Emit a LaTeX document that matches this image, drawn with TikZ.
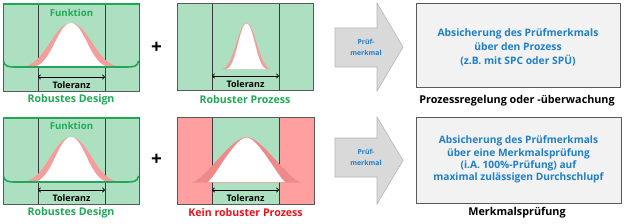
\documentclass[tikz,border=0pt]{standalone}
\usepackage{fontspec}
\setmainfont{Open Sans}
\usetikzlibrary{arrows.meta}
\definecolor{gfill}{HTML}{ADE0C1}
\definecolor{gline}{HTML}{22A65A}
\definecolor{gtext}{HTML}{1FAA55}
\definecolor{pband}{HTML}{F59C9C}
\definecolor{pbandd}{HTML}{F08A8A}
\definecolor{rfill}{HTML}{FF9F9F}
\definecolor{rtext}{HTML}{E8141C}
\definecolor{btext}{HTML}{1F7FC8}
\definecolor{afill}{HTML}{D9D9D9}
\definecolor{aline}{HTML}{B5B5B5}
\definecolor{bfill}{HTML}{F2F2F2}
\definecolor{bline}{HTML}{595959}
\definecolor{dline}{HTML}{3A3A3A}
\tikzset{
  panel/.style={draw=bline, line width=0.6pt},
  divline/.style={draw=dline, line width=0.7pt},
  funcline/.style={draw=gline, line width=2.4pt},
  bowlline/.style={draw=gline, line width=1.6pt},
  tolarrow/.style={draw=black, line width=0.6pt, {Straight Barb[length=2.2pt,width=4.5pt]}-{Straight Barb[length=2.2pt,width=4.5pt]}},
  toltext/.style={font=\fontsize{9}{10}\selectfont\bfseries, text=black, inner sep=0pt},
  functext/.style={font=\fontsize{9.6}{10}\selectfont\bfseries, text=gtext, inner sep=0pt},
  gcaptext/.style={font=\fontsize{10.6}{11}\selectfont\bfseries, text=gtext, inner sep=0pt},
  captext/.style={font=\fontsize{10.8}{11}\selectfont\bfseries, inner sep=0pt},
  plustext/.style={font=\fontsize{19}{20}\selectfont\bfseries, text=black, inner sep=0pt},
  bigarrow/.style={fill=afill, draw=aline, line width=0.6pt},
  arrtext/.style={font=\fontsize{6.9}{10.8}\selectfont\bfseries, text=btext, align=center, inner sep=0pt},
  resbox/.style={fill=bfill, draw=bline, line width=0.8pt},
  restext/.style={font=\fontsize{10.3}{14}\selectfont\bfseries, text=btext, align=center, inner sep=0pt},
}
\begin{document}
\begin{tikzpicture}[x=1pt,y=-1pt]
\useasboundingbox (0,0) rectangle (627,223);
\fill[white] (0,0) rectangle (627,223);

% ================= TOP ROW =================
% Top-left: Robustes Design
\fill[gfill] (3,3) rectangle (139,91);
\draw[divline] (38,3) -- (38,91);
\draw[divline] (105,3) -- (105,91);
\fill[pband] (20,67) .. controls (45.5,67) and (53.15,23) .. (71,23)
  .. controls (88.85,23) and (96.5,67) .. (122,67) -- cycle;
\fill[white] (32,67) .. controls (51.5,67) and (57.35,23) .. (71,23)
  .. controls (84.65,23) and (90.5,67) .. (110,67) -- cycle;
\draw[panel] (3,3) rectangle (139,91);
\draw[funcline] (3,4.2) -- (139,4.2);
\draw[bowlline] (3.5,61) .. controls (4.5,66.5) and (8,67) .. (16,67) -- (126,67) .. controls (134,67) and (137.5,66.5) .. (138.5,61);
\node[functext] (f1) at (71.5,12.5) {Funktion};
\coordinate (t1l) at (38,77);
\coordinate (t1r) at (105,77);
\draw[tolarrow] (t1l) -- (t1r);
\node[toltext] (tol1) at (71.5,85) {Toleranz};
\node[gcaptext] (rd1) at (71,99.5) {Robustes Design};

\node[plustext] (plus1) at (156.5,48) {+};

% Top-middle: Robuster Prozess
\fill[gfill] (177,3.3) rectangle (313,90);
\draw[divline] (212,3.3) -- (212,90);
\draw[divline] (279,3.3) -- (279,90);
\fill[pband] (221.5,69) .. controls (234,69) and (237.75,23) .. (246.5,23)
  .. controls (255.25,23) and (259,69) .. (271.5,69) -- cycle;
\fill[white] (226,69) .. controls (236.25,69) and (239.33,23.5) .. (246.5,23.5)
  .. controls (253.67,23.5) and (256.75,69) .. (267,69) -- cycle;
\draw[panel] (177,3.3) rectangle (313,90);
\coordinate (t2l) at (212,76);
\coordinate (t2r) at (279,76);
\draw[tolarrow] (t2l) -- (t2r);
\node[toltext] (tol2) at (245.5,84) {Toleranz};
\node[gcaptext] (rp1) at (245,99.5) {Robuster Prozess};

% Top arrow
\draw[bigarrow] (335,28) -- (377,28) -- (377,3) -- (403,47) -- (377,91) -- (377,67) -- (335,67) -- cycle;
\node[arrtext] (a1) at (366,47) {Prüf-\\merkmal};

% Top result box
\node[resbox, minimum width=204pt, minimum height=84pt, inner sep=0pt] (box1) at (518,45) {};
\node[restext] (r1) at (518,47) {Absicherung des Prüfmerkmals\\über den Prozess\\(z.B. mit SPC oder SPÜ)};
\node[captext] (c1) at (517,100.5) {Prozessregelung oder -überwachung};

% ================= BOTTOM ROW =================
% Bottom-left: Robustes Design
\fill[gfill] (3,117) rectangle (139,204);
\draw[divline] (38,117) -- (38,204);
\draw[divline] (105,117) -- (105,204);
\fill[pband] (21,182) .. controls (46,182) and (53.5,137) .. (71,137)
  .. controls (88.5,137) and (96,182) .. (121,182) -- cycle;
\fill[white] (33,182) .. controls (52,182) and (57.7,137) .. (71,137)
  .. controls (84.3,137) and (90,182) .. (109,182) -- cycle;
\draw[panel] (3,117) rectangle (139,204);
\draw[funcline] (3,117.8) -- (139,117.8);
\draw[bowlline] (3.5,176) .. controls (4.5,181.5) and (8,182) .. (16,182) -- (126,182) .. controls (134,182) and (137.5,181.5) .. (138.5,176);
\node[functext] (f2) at (71.5,125.5) {Funktion};
\coordinate (t3l) at (38,190);
\coordinate (t3r) at (105,190);
\draw[tolarrow] (t3l) -- (t3r);
\node[toltext] (tol3) at (71.5,198.5) {Toleranz};
\node[gcaptext] (rd2) at (71,212.5) {Robustes Design};

\node[plustext] (plus2) at (156.5,160) {+};

% Bottom-middle: Kein robuster Prozess
\fill[rfill] (177,117) rectangle (314,204);
\fill[gfill] (212,117) rectangle (279,204);
\draw[divline] (212,117) -- (212,204);
\draw[divline] (279,117) -- (279,204);
\fill[pbandd] (192,182.5) .. controls (206,178.5) and (231.5,137) .. (246.5,137)
  .. controls (261.5,137) and (287,178.5) .. (301,182.5) -- cycle;
\fill[white] (208,182) .. controls (216,175.8) and (235,137.6) .. (246.5,137.6)
  .. controls (258,137.6) and (277,175.8) .. (285,182) -- cycle;
\draw[panel] (177,117) rectangle (314,204);
\coordinate (t4l) at (212,190);
\coordinate (t4r) at (279,190);
\draw[tolarrow] (t4l) -- (t4r);
\node[toltext] (tol4) at (245.5,198.5) {Toleranz};
\node[gcaptext, text=rtext] (kp) at (245.5,213) {Kein robuster Prozess};

% Bottom arrow
\draw[bigarrow] (335,138) -- (377,138) -- (377,117) -- (403,160.5) -- (377,204) -- (377,177) -- (335,177) -- cycle;
\node[arrtext] (a2) at (366,157.5) {Prüf-\\merkmal};

% Bottom result box
\node[resbox, minimum width=205pt, minimum height=86pt, inner sep=0pt] (box2) at (518.5,160) {};
\node[restext, font=\fontsize{10.2}{12.2}\selectfont\bfseries] (r2) at (518.5,159.5) {Absicherung des Prüfmerkmals\\über eine Merkmalsprüfung\\(i.A. 100\%-Prüfung) auf\\maximal zulässigen Durchschlupf};
\node[captext] (c2) at (517,213) {Merkmalsprüfung};
\end{tikzpicture}
\end{document}
